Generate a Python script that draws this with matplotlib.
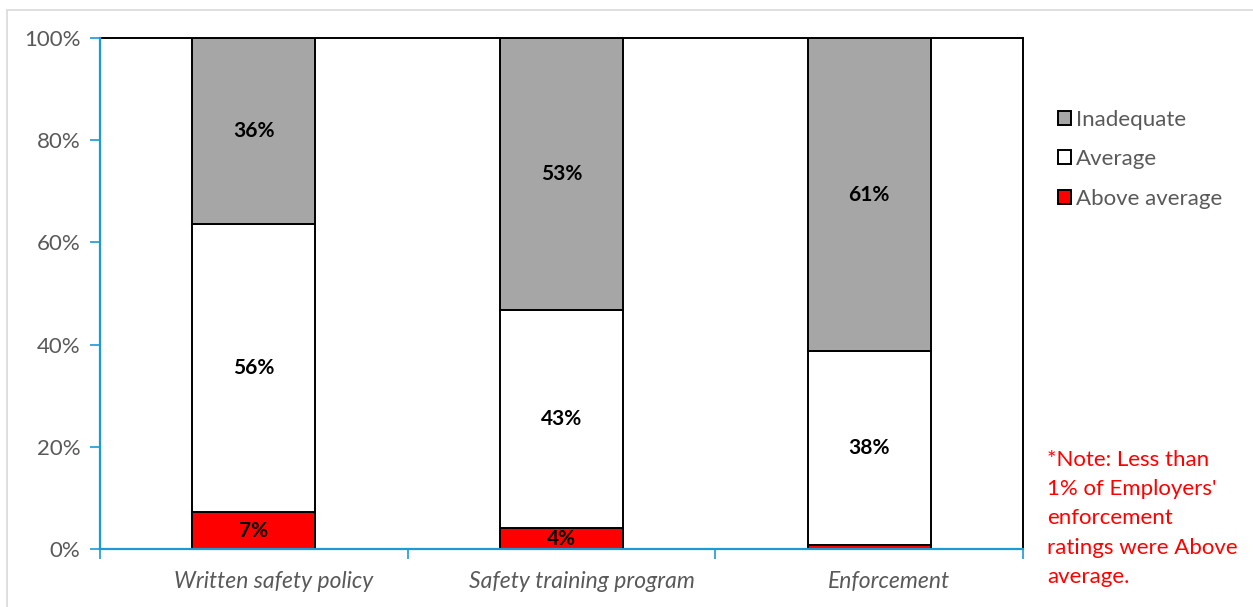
"""Employer safety ratings: stacked share of Above average / Average / Inadequate."""
import matplotlib

matplotlib.use("Agg")
import matplotlib.pyplot as plt
from matplotlib.patches import Rectangle
from matplotlib.ticker import FixedLocator, PercentFormatter
from matplotlib.transforms import ScaledTranslation

categories = ["Written safety policy", "Safety training program", "Enforcement"]
above_average = [7.2, 4.1, 0.8]
average = [56.4, 42.6, 37.9]
inadequate = [36.4, 53.3, 61.3]

_RED = "#FF0000"
_GREY = "#A6A6A6"
_AXIS_BLUE = "#1B9AD6"
_TEXT_GREY = "#595959"

plt.rcParams["font.family"] = ["Lato", "DejaVu Sans"]

fig = plt.figure(figsize=(12.53, 6.07), dpi=100)
ax = fig.add_axes([100 / 1253, 1 - 549 / 607, 923 / 1253, 511 / 607])

x = range(len(categories))
width = 0.4
bottom_avg = above_average
bottom_inad = [a + b for a, b in zip(above_average, average)]

ax.bar(x, above_average, width, color=_RED, edgecolor="black", linewidth=1.4,
       label="Above average", zorder=2)
ax.bar(x, average, width, bottom=bottom_avg, color="white", edgecolor="black",
       linewidth=1.4, label="Average", zorder=2)
ax.bar(x, inadequate, width, bottom=bottom_inad, color=_GREY, edgecolor="black",
       linewidth=1.4, label="Inadequate", zorder=2)

# segment labels (the sub-1% enforcement slice is left unlabelled)
for i in x:
    segments = [(above_average[i], 0), (average[i], bottom_avg[i]),
                (inadequate[i], bottom_inad[i])]
    for val, base in segments:
        if val < 1:
            continue
        ax.text(i, base + val / 2, f"{val:.0f}%", ha="center", va="center",
                fontsize=15, fontweight="bold", color="black", zorder=3)

ax.set_xlim(-0.5, len(categories) - 0.5)
ax.set_ylim(0, 100)
ax.yaxis.set_major_locator(FixedLocator([0, 20, 40, 60, 80, 100]))
ax.yaxis.set_major_formatter(PercentFormatter(decimals=0))
ax.set_xticks(list(x))
ax.set_xticklabels(categories, style="italic", fontsize=16.5, color=_TEXT_GREY)
ax.tick_params(axis="x", length=0, pad=16)
# category names sit a little right of the bar centres
nudge = ScaledTranslation(20 / 100, 0, fig.dpi_scale_trans)
for lbl in ax.get_xticklabels():
    lbl.set_transform(lbl.get_transform() + nudge)
ax.xaxis.set_minor_locator(FixedLocator([-0.5, 0.5, 1.5, 2.5]))
ax.tick_params(axis="x", which="minor", length=7, width=1.2, color=_AXIS_BLUE)
ax.tick_params(axis="y", length=7, width=1.2, color=_AXIS_BLUE,
               labelsize=16, labelcolor=_TEXT_GREY, pad=7)

for side in ("top", "right"):
    ax.spines[side].set_color("black")
    ax.spines[side].set_linewidth(1.4)
for side in ("left", "bottom"):
    ax.spines[side].set_color(_AXIS_BLUE)
    ax.spines[side].set_linewidth(1.6)
    ax.spines[side].set_zorder(4)

handles, labels = ax.get_legend_handles_labels()
ax.legend(handles[::-1], labels[::-1], loc="upper left",
          bbox_to_anchor=(1049 / 1253, 1 - 101 / 607), bbox_transform=fig.transFigure,
          frameon=False, fontsize=16, labelcolor=_TEXT_GREY,
          handlelength=0.6, handleheight=0.6, handletextpad=0.2,
          labelspacing=0.87, borderaxespad=0)

fig.text(1047 / 1253, 1 - 450 / 607,
         "*Note: Less than\n1% of Employers'\nenforcement\nratings were Above\naverage.",
         ha="left", va="top", fontsize=16, color=_RED, linespacing=1.575)

# light outer frame around the chart area
fig.patches.append(Rectangle((7 / 1253, -0.05), 1.1, 1 - 10 / 607 + 0.05,
                             transform=fig.transFigure, fill=False,
                             edgecolor="#D9D9D9", linewidth=1.2))

fig.savefig("out.png", dpi=100)
